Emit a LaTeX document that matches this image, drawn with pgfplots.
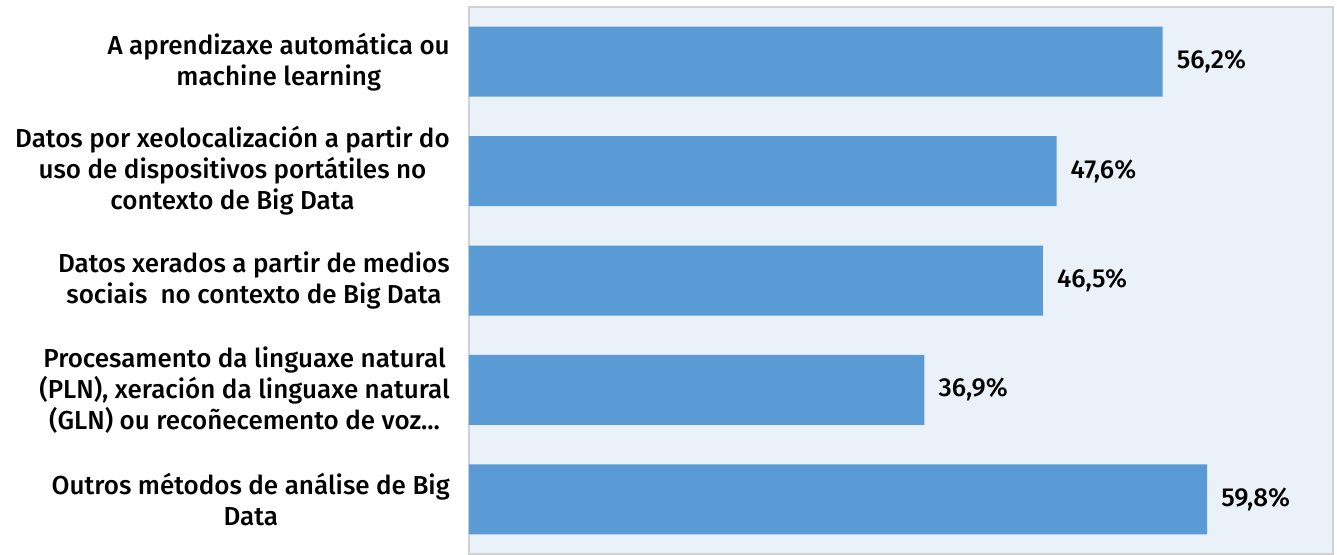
\documentclass[border=0pt]{standalone}
\usepackage{fontspec}
\setmainfont{Fira Sans}[BoldFont={Fira Sans Medium}]
\usepackage{pgfplots}
\pgfplotsset{compat=1.18}
\definecolor{barblue}{RGB}{91,155,213}
\definecolor{bgblue}{RGB}{234,241,248}
\definecolor{axgray}{RGB}{210,210,210}
\begin{document}
\begin{tikzpicture}
\useasboundingbox (-281.4pt,0pt) rectangle (520.8pt,332.4pt);
\begin{axis}[
  at={(0pt,0pt)}, anchor=south west,
  scale only axis,
  width=518.4pt, height=328.2pt,
  xbar, bar width=42pt,
  xmin=0, xmax=70,
  ymin=-0.5, ymax=4.5,
  y dir=reverse,
  ytick={0,1,2,3,4},
  yticklabels={
    {A aprendizaxe automática ou\\machine learning},
    {Datos por xeolocalización a partir do\\uso de dispositivos portátiles no\\contexto de Big Data},
    {Datos xerados a partir de medios\\sociais\ \ no contexto de Big Data},
    {Procesamento da linguaxe natural\\(PLN), xeración da linguaxe natural\\(GLN) ou recoñecemento de voz.{}.{}.},
    {Outros métodos de análise de Big\\Data}},
  yticklabel style={align=center, font=\bfseries\fontsize{15.6}{18.6}\selectfont, anchor=east, xshift=-8pt},
  major tick length=0pt,
  xtick=\empty,
  axis background/.style={fill=bgblue},
  axis line style={draw=axgray, line width=0.8pt},
  nodes near coords={\pgfmathprintnumber{\pgfplotspointmeta}\%},
  nodes near coords style={font=\bfseries\fontsize{15.6}{18}\selectfont, black, anchor=west, xshift=5pt},
  point meta=explicit,
  /pgf/number format/.cd, use comma, fixed, fixed zerofill, precision=1, assume math mode=true,
]
\addplot[fill=barblue, draw=none] table[meta=v] {
x y v
56.2 0 56.2
47.6 1 47.6
46.5 2 46.5
36.9 3 36.9
59.8 4 59.8
};
\end{axis}
\end{tikzpicture}
\end{document}
